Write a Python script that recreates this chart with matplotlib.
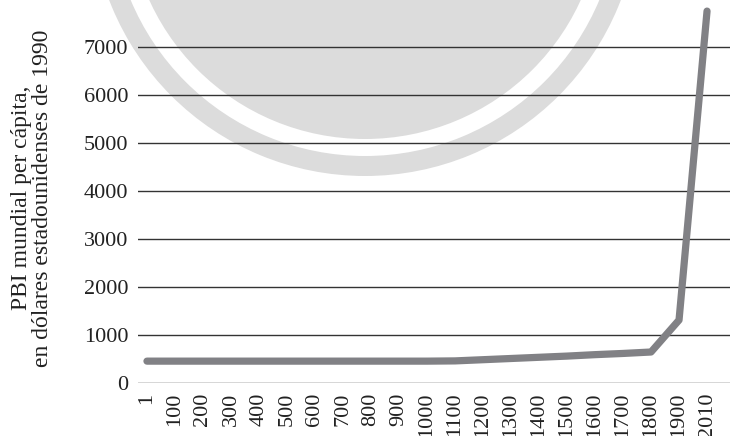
import numpy as np
import matplotlib
matplotlib.use("Agg")
import matplotlib.pyplot as plt
from matplotlib.patches import Circle, Wedge

# data: world GDP per capita (1990 USD)
years = ['1', '100', '200', '300', '400', '500', '600', '700', '800', '900', '1000',
         '1100', '1200', '1300', '1400', '1500', '1600', '1700', '1800', '1900', '2010']
gdp = [455, 455, 455, 455, 455, 455, 455, 455, 455, 455, 455,
       460, 485, 510, 535, 560, 590, 615, 645, 1310, 7740]
yticks = [0, 1000, 2000, 3000, 4000, 5000, 6000, 7000]

plt.rcParams['font.family'] = ['Liberation Serif', 'DejaVu Serif']

W, H = 730, 436
fig = plt.figure(figsize=(W / 100, H / 100), dpi=100)

# background watermark (big grey disc + ring), in pixel coords
bg = fig.add_axes([0, 0, 1, 1], zorder=0)
bg.set_xlim(0, W)
bg.set_ylim(H, 0)
bg.axis('off')
wm = '#dcdcdc'
bg.add_patch(Circle((365, -98), 237, color=wm, lw=0))
bg.add_patch(Wedge((365, -98), 274, 0, 360, width=20, color=wm, lw=0))

# main axes: left 138px, right 730px, bottom 383px, top 0px
left, right, bottom, top = 138, 730, 383, 0
ax = fig.add_axes([left / W, (H - bottom) / H, (right - left) / W, (bottom - top) / H], zorder=1)
ax.patch.set_alpha(0)

x = np.arange(len(years))
for v in yticks:
    ax.axhline(v, color='#333333', lw=1.0, zorder=1)
ax.plot(x, gdp, color='#818185', lw=5.2, solid_capstyle='round',
        solid_joinstyle='round', zorder=2)

ax.set_xlim(-0.32, 20.82)
ax.set_ylim(0, bottom / 48.05 * 1000)
ax.set_xticks(x)
ax.set_xticklabels(years, rotation=90, fontsize=16)
ax.set_yticks(yticks)
ax.set_yticklabels([str(v) for v in yticks], fontsize=16)
ax.tick_params(length=0, pad=7, colors='#222222')
for s in ax.spines.values():
    s.set_visible(False)

ax.set_ylabel('PBI mundial per cápita,\nen dólares estadounidenses de 1990',
              fontsize=17, color='#222222', linespacing=1.05)
ax.yaxis.set_label_coords(-0.143, 0.483)

fig.savefig('out.png', dpi=100)
